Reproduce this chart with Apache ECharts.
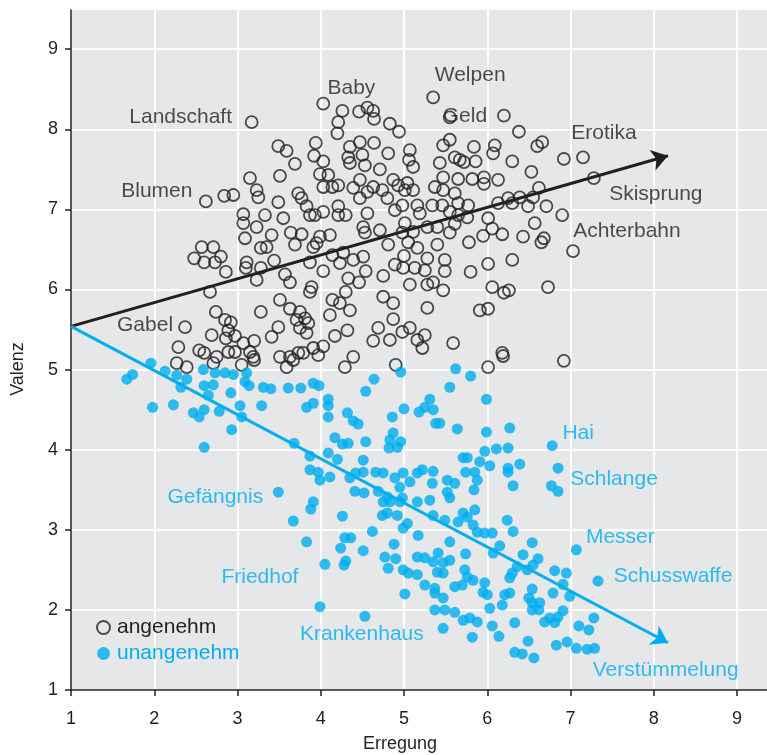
<!DOCTYPE html>
<html>
<head>
<meta charset="utf-8">
<script src="https://cdn.jsdelivr.net/npm/echarts@6/dist/echarts.min.js"></script>
<style>
  html, body { margin: 0; padding: 0; background: #ffffff; }
  #chart { width: 767px; height: 755px; }
</style>
</head>
<body>
<div id="chart"></div>
<script>
// Arousal (Erregung) vs. valence (Valenz) ratings of pictures
const xTicks = [1, 2, 3, 4, 5, 6, 7, 8, 9];
const yTicks = [1, 2, 3, 4, 5, 6, 7, 8, 9];

// pleasant pictures (open circles)
const pleasant = [
  [4.03,8.32],[4.46,8.22],[4.56,8.27],[4.63,8.23],[4.64,8.13],[4.21,8.09],[4.20,7.95],[4.83,8.07],[4.94,7.97],[5.55,8.15],
  [3.49,7.79],[3.59,7.73],[3.69,7.57],[3.51,7.42],[3.94,7.83],[3.92,7.67],[4.03,7.60],[3.99,7.44],[4.09,7.43],[4.03,7.28],
  [4.14,7.28],[4.21,7.30],[3.73,7.20],[3.77,7.14],[3.83,7.04],[3.87,6.93],[3.93,6.93],[4.03,6.97],[3.49,7.09],[3.55,6.89],
  [4.21,7.04],[4.21,6.93],[4.30,6.93],[4.35,7.78],[4.47,7.84],[4.64,7.83],[4.33,7.65],[4.35,7.58],[4.50,7.68],[4.53,7.55],
  [4.81,7.70],[4.71,7.50],[4.47,7.37],[4.39,7.27],[4.56,7.22],[4.47,7.14],[4.63,7.28],[4.74,7.24],[4.80,7.14],[4.87,7.37],
  [4.93,7.30],[5.04,7.33],[5.01,7.24],[5.11,7.24],[4.98,7.05],[4.89,6.99],[5.16,7.05],[5.07,7.74],[5.06,7.62],[5.11,7.53],
  [5.34,7.05],[5.43,7.58],[5.47,7.40],[5.37,7.28],[5.47,7.24],[5.46,7.05],[5.47,7.80],[4.56,6.95],
  [5.01,6.83],[5.28,6.78],[5.40,6.78],[5.19,6.95],
  [3.15,7.39],[2.84,7.17],[2.95,7.18],[3.23,7.24],[3.25,7.15],[3.07,6.94],[3.33,6.93],[3.07,6.83],[3.23,6.78],
  [6.38,7.97],[6.66,7.84],[6.60,7.79],[6.92,7.63],[5.55,7.87],[5.84,7.78],[6.09,7.80],[6.07,7.70],[6.30,7.60],[6.53,7.47],
  [6.62,7.27],[6.71,7.04],[6.90,6.93],[6.57,6.83],[5.61,7.65],[5.67,7.62],[5.72,7.59],[5.86,7.60],[5.65,7.38],[5.82,7.38],
  [5.96,7.40],[5.96,7.32],[6.13,7.37],[5.61,7.20],[5.65,7.08],[5.77,7.05],[5.55,6.97],[5.65,6.93],[5.76,6.90],[6.13,7.08],
  [6.25,7.14],[6.30,7.08],[6.39,7.15],[6.49,7.04],[6.55,7.15],[6.01,6.89],[5.61,6.82],[5.55,6.71],[5.78,6.59],[5.95,6.67],
  [6.06,6.76],[6.18,6.69],[6.43,6.66],[6.68,6.64],[6.65,6.59],[5.49,6.37],[5.49,6.23],[5.80,6.22],[6.01,6.32],[6.30,6.37],
  [5.47,5.99],[6.06,6.03],[6.20,5.96],[6.26,5.99],[6.73,6.03],[5.91,5.74],[6.01,5.76],[5.59,5.33],[6.18,5.21],[6.92,5.11],
  [6.01,5.03],[3.41,6.68],[3.09,6.64],[3.35,6.53],[3.28,6.52],[2.57,6.53],[2.71,6.53],[2.48,6.39],[2.60,6.34],
  [2.73,6.34],[2.80,6.41],[2.86,6.22],[3.11,6.34],[3.10,6.27],[3.28,6.27],[3.23,6.12],[3.44,6.36],[2.67,5.97],[3.51,5.87],
  [3.28,5.72],[2.74,5.72],[2.85,5.62],[2.92,5.59],[2.89,5.49],[2.69,5.43],[2.86,5.39],[2.97,5.42],[3.07,5.33],[3.20,5.36],
  [3.41,5.41],[3.49,5.53],[2.29,5.28],[2.54,5.24],[2.60,5.21],[2.75,5.16],[2.89,5.22],[2.97,5.22],[3.15,5.22],[3.19,5.16],
  [3.20,5.12],[2.27,5.08],[2.39,5.03],[2.71,5.08],[3.05,5.06],[3.51,5.16],
  [3.64,6.71],[3.77,6.69],[3.69,6.56],[3.99,6.66],[4.11,6.68],[3.91,6.53],[3.95,6.58],[4.51,6.78],[4.53,6.71],[4.71,6.74],
  [4.81,6.56],[4.98,6.71],[5.05,6.59],[5.11,6.72],[5.16,6.52],[5.40,6.56],[3.87,6.34],[4.14,6.43],
  [4.23,6.33],[4.27,6.46],[4.39,6.37],[4.51,6.41],[4.03,6.23],[4.33,6.14],[4.46,6.09],[4.54,6.23],[4.75,6.17],[4.89,6.31],
  [5.00,6.42],[4.99,6.27],[5.13,6.27],[5.28,6.39],[5.25,6.24],[5.07,6.06],[5.28,6.06],[5.35,6.09],[3.57,6.19],[3.63,6.09],
  [3.89,6.03],[3.87,5.97],[4.30,5.97],[3.63,5.76],[3.75,5.72],[3.71,5.62],[3.81,5.64],[3.85,5.58],[3.75,5.52],
  [3.83,5.46],[4.14,5.87],[4.23,5.83],[4.35,5.74],[4.11,5.68],[4.32,5.49],[4.17,5.42],[4.75,5.91],[4.87,5.83],[4.87,5.63],
  [4.69,5.52],[4.98,5.47],[4.83,5.37],[4.63,5.36],[5.07,5.52],[5.25,5.43],[5.16,5.37],[5.22,5.27],[5.28,5.77],[4.03,5.29],
  [3.91,5.27],[3.97,5.18],[3.79,5.21],[3.73,5.21],[3.63,5.16],[4.39,5.16],[4.29,5.03],[3.59,5.03],[4.90,5.06],
  [3.67,5.12],[6.19,5.17]
];
// named pleasant pictures: [name, arousal, valence]
const pleasantNamed = [
  ['Welpen', 5.35, 8.40],
  ['Baby', 4.26, 8.23],
  ['Landschaft', 3.17, 8.09],
  ['Geld', 6.20, 8.17],
  ['Erotika', 7.15, 7.65],
  ['Blumen', 2.62, 7.10],
  ['Skisprung', 7.28, 7.39],
  ['Achterbahn', 7.03, 6.48],
  ['Gabel', 2.37, 5.53]
];

// unpleasant pictures (filled dots)
const unpleasant = [
  [1.67,4.88],[1.74,4.94],[1.96,5.08],[2.13,4.98],[2.27,4.93],[2.39,4.88],[2.32,4.78],[2.59,5.00],[2.73,4.96],[2.85,4.96],
  [2.95,4.94],[3.11,4.96],[3.09,4.85],[3.14,4.80],[3.31,4.78],[3.40,4.76],[2.60,4.80],[2.71,4.81],[2.65,4.68],[2.92,4.71],
  [1.98,4.53],[2.23,4.56],[3.03,4.55],[3.29,4.55],[2.78,4.48],[2.47,4.46],[2.54,4.41],[2.60,4.50],[3.05,4.41],[2.93,4.25],
  [2.60,4.03],[4.96,4.97],[4.64,4.88],[4.54,4.73],[3.61,4.77],[3.76,4.77],[3.91,4.83],[3.98,4.80],[4.09,4.63],[4.09,4.55],
  [3.83,4.53],[3.91,4.58],[4.09,4.41],[4.32,4.46],[4.39,4.36],[4.45,4.32],[4.86,4.41],[5.00,4.51],[4.17,4.15],[4.26,4.07],
  [4.33,4.08],[4.54,4.10],[4.87,4.21],[4.83,4.12],[4.96,4.10],[4.82,4.02],[4.92,4.03],[3.68,4.08],[3.87,3.92],[4.09,3.96],
  [4.20,3.88],[4.51,3.87],[3.87,3.75],[3.97,3.72],[3.99,3.62],[4.11,3.66],[4.35,3.65],[4.42,3.71],[4.51,3.72],[4.66,3.72],
  [4.75,3.71],[4.89,3.65],[4.99,3.71],[5.07,3.60],[5.16,3.71],[5.22,3.75],[5.35,3.73],[5.34,3.58],[4.95,3.53],[4.69,3.48],
  [4.41,3.48],[4.52,3.46],[4.80,3.41],[4.98,3.40],[5.16,3.35],[5.31,3.37],[5.52,3.62],[5.52,3.47],[3.91,3.35],[4.83,3.35],
  [5.31,4.63],[5.25,4.53],[5.18,4.47],[5.35,4.50],[5.38,4.33],[5.55,4.78],[5.62,5.01],[5.80,4.92],[5.99,4.63],[5.43,4.33],
  [5.64,4.26],[5.99,4.22],[6.27,4.27],[6.77,3.55],[6.85,3.48],[5.97,3.98],[6.11,4.01],[6.25,4.02],[5.71,3.90],[5.76,3.90],
  [5.91,3.85],[6.03,3.80],[6.25,3.77],[6.39,3.82],[6.25,3.72],[6.31,3.55],[5.74,3.72],[5.85,3.72],[5.88,3.62],[5.84,3.50],
  [5.61,3.58],[5.55,3.40],[3.88,3.26],[3.67,3.11],[4.26,3.17],[4.75,3.35],[4.80,3.21],[4.74,3.18],[4.92,3.18],[4.95,3.35],
  [5.35,3.18],[5.49,3.12],[5.04,3.08],[4.99,3.02],[4.62,2.98],[5.17,2.93],[3.83,2.85],[4.29,2.90],[4.36,2.90],[4.24,2.77],
  [4.51,2.74],[4.88,2.82],[4.77,2.66],[4.90,2.64],[4.81,2.52],[4.30,2.61],[4.28,2.56],[4.99,2.50],[5.05,2.46],[5.16,2.44],
  [5.16,2.66],[5.25,2.65],[5.41,2.71],[5.35,2.60],[5.47,2.59],[5.55,2.62],[5.40,2.47],[5.47,2.46],[5.25,2.31],[5.37,2.27],
  [5.37,2.21],[5.01,2.20],[5.47,2.15],[5.49,2.00],[5.37,2.00],[5.47,1.77],[3.99,2.04],
  [5.71,3.21],[5.85,3.25],[5.76,3.16],[5.65,3.10],[5.83,3.06],[5.88,2.97],[5.97,2.96],[6.06,2.96],[6.24,3.12],[6.31,2.98],
  [5.55,2.85],[5.74,2.70],[6.15,2.80],[6.07,2.71],[6.54,2.84],[6.43,2.69],[6.61,2.64],[6.55,2.56],[6.48,2.50],[6.36,2.54],
  [6.30,2.46],[6.27,2.40],[6.81,2.49],[6.95,2.46],[6.91,2.32],[6.79,2.21],[6.99,2.17],[6.54,2.26],[6.50,2.15],[6.54,2.09],
  [6.54,2.00],[6.62,2.00],[6.63,2.09],[5.97,2.34],[5.95,2.22],[6.00,2.19],[6.27,2.21],[6.21,2.19],[6.18,2.06],[6.03,2.02],
  [5.73,2.50],[5.76,2.41],[5.83,2.37],[5.70,2.31],[5.61,2.29],[5.61,1.97],[5.71,1.87],[5.79,1.90],[5.88,1.85],[6.06,1.80],
  [6.14,1.67],[6.33,1.84],[5.82,1.66],[6.49,1.61],[6.33,1.47],[6.42,1.45],[6.56,1.40],[6.69,1.85],[6.75,1.90],[6.85,1.91],
  [6.81,1.84],[6.91,1.99],[7.28,1.90],[7.10,1.80],[7.22,1.75],[6.83,1.56],[6.96,1.60],[7.07,1.52],[7.20,1.51]
];
// named unpleasant pictures: [name, arousal, valence]
const unpleasantNamed = [
  ['Hai', 6.78, 4.05],
  ['Schlange', 6.85, 3.77],
  ['Gefängnis', 3.49, 3.47],
  ['Messer', 7.07, 2.75],
  ['Friedhof', 4.05, 2.57],
  ['Schusswaffe', 7.33, 2.36],
  ['Krankenhaus', 4.53, 1.92],
  ['Verstümmelung', 7.29, 1.52]
];

// trend arrows for both groups: [start, arrow tip]
const pleasantTrend = [[1, 5.54], [8.17, 7.67]];
const unpleasantTrend = [[1, 5.54], [8.17, 1.59]];

// label placement relative to each named dot (px)
const labelOffsets = {
  'Welpen': [37, -22], 'Baby': [9, -23], 'Landschaft': [-71, -5], 'Geld': [-39, 0],
  'Erotika': [21, -24], 'Blumen': [-49, -10], 'Skisprung': [62, 16], 'Achterbahn': [54, -20],
  'Gabel': [-40, -2],
  'Hai': [26, -13], 'Schlange': [56, 11], 'Gefängnis': [-63, 5], 'Messer': [44, -13],
  'Friedhof': [-65, 13], 'Schusswaffe': [75, -5], 'Krankenhaus': [-3, 18], 'Verstümmelung': [71, 22]
};

const DARK = '#231f20';
const BLUE = '#00aeef';
const FONT = '"Liberation Sans", Arial, Helvetica, sans-serif';

function withNames(points, named) {
  const items = points.map(p => ({ value: p }));
  named.forEach(([name, x, y]) => {
    items.push({
      name: name,
      value: [x, y],
      label: { show: true, offset: labelOffsets[name] }
    });
  });
  return items;
}

function trendLine(trend, color) {
  return {
    silent: true,
    symbol: ['none', 'arrow'],
    symbolSize: 16,
    label: { show: false },
    emphasis: { disabled: true },
    lineStyle: { color: color, width: 3, type: 'solid' },
    data: [[{ coord: trend[0] }, { coord: trend[1] }]]
  };
}

const chart = echarts.init(document.getElementById('chart'), null, { renderer: 'canvas' });

chart.setOption({
  animation: false,
  textStyle: { fontFamily: FONT },
  grid: {
    left: 71, right: 0, top: 10, bottom: 65,
    outerBoundsMode: 'none',
    show: true, backgroundColor: '#e6e7e8', borderWidth: 0
  },
  legend: {
    orient: 'vertical',
    left: 96, top: 617,
    padding: 0,
    itemWidth: 13, itemHeight: 13, itemGap: 5,
    textStyle: { fontSize: 21, fontFamily: FONT, padding: [0, 0, 0, 2] },
    data: [
      { name: 'angenehm', textStyle: { color: DARK } },
      { name: 'unangenehm', textStyle: { color: BLUE } }
    ]
  },
  xAxis: {
    type: 'value', min: 1, max: 9.36, interval: 1,
    name: 'Erregung', nameLocation: 'middle', nameGap: 45,
    nameTextStyle: { color: DARK, fontSize: 18, fontFamily: FONT, padding: [0, 38, 0, 0] },
    axisLine: { show: true, lineStyle: { color: DARK, width: 1.5 } },
    axisTick: { show: true, length: 6, lineStyle: { color: DARK, width: 1.5 }, customValues: xTicks },
    axisLabel: { color: DARK, fontSize: 18, margin: 20, customValues: xTicks },
    splitLine: { show: true, lineStyle: { color: '#ffffff', width: 2 } }
  },
  yAxis: {
    type: 'value', min: 1, max: 9.49, interval: 1,
    name: 'Valenz', nameLocation: 'middle', nameGap: 44,
    nameTextStyle: { color: DARK, fontSize: 18, fontFamily: FONT, padding: [0, 38, 0, 0] },
    axisLine: { show: true, lineStyle: { color: DARK, width: 1.5 } },
    axisTick: { show: true, length: 6, lineStyle: { color: DARK, width: 1.5 }, customValues: yTicks },
    axisLabel: { color: DARK, fontSize: 18, margin: 13, customValues: yTicks },
    splitLine: { show: true, lineStyle: { color: '#ffffff', width: 2 } }
  },
  series: [
    {
      name: 'angenehm',
      type: 'scatter',
      symbol: 'circle',
      symbolSize: 12,
      itemStyle: { color: 'rgba(0,0,0,0)', borderColor: DARK, borderWidth: 1.8 },
      label: {
        show: false, position: 'inside', formatter: '{b}',
        color: DARK, fontSize: 21, fontFamily: FONT
      },
      emphasis: { disabled: true },
      data: withNames(pleasant, pleasantNamed),
      markLine: trendLine(pleasantTrend, DARK)
    },
    {
      name: 'unangenehm',
      type: 'scatter',
      symbol: 'circle',
      symbolSize: 11,
      itemStyle: { color: BLUE },
      label: {
        show: false, position: 'inside', formatter: '{b}',
        color: BLUE, fontSize: 21, fontFamily: FONT
      },
      emphasis: { disabled: true },
      data: withNames(unpleasant, unpleasantNamed),
      markLine: trendLine(unpleasantTrend, BLUE)
    }
  ]
});
</script>
</body>
</html>
